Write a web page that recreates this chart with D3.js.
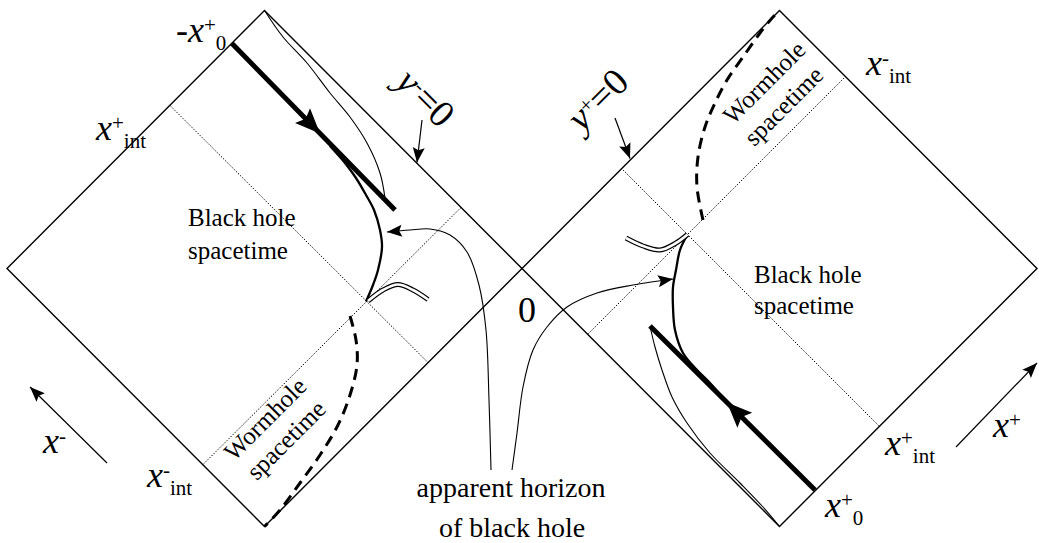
<!DOCTYPE html>
<html>
<head>
<meta charset="utf-8">
<script src="https://cdn.jsdelivr.net/npm/d3@7"></script>
<style>
  html, body { margin: 0; padding: 0; background: #fff; }
  svg { display: block; font-family: "Liberation Serif", "Times New Roman", serif; }
</style>
</head>
<body>
<div id="chart"></div>
<script>
// diagram coordinates: origin at the shared corner "0", roughly one unit per pixel
const leftDiamond = [[0, 0], [-257.5, 258], [-515, 0], [-257.5, -258]];
const rightDiamond = [[0, 0], [257.5, 258], [515, 0], [257.5, -258]];

// dotted x+int / x-int lines
const gridLeft = [[[-352, 163], [-94, -94]], [[-319, -196], [-61, 61]]];
const gridRight = [[[99, 100.5], [357, -157.5]], [[324, 192.5], [66, -65.5]]];

// thick infalling shells, arrow position along them
const infallLeft = [[-290, 225], [-127, 58.5]];
const infallRight = [[293, -221.5], [128, -57.5]];
const arrowAt = [0.54, 0.533];

// thin curves from the corners
const shellLeft = [[-257.5, 258], [-239, 231.5], [-215, 205.5], [-192, 175.5], [-172, 151.5],
  [-155, 125.5], [-142, 95.5], [-137, 70.5]];
const shellRight = [[128, -57.5], [133, -78.5], [140, -101.5], [150, -128.5], [165, -154.5],
  [188, -184.5], [218, -214.5], [241, -238.5], [257.5, -258]];

// apparent horizons
const horizonLeft = [[-192, 122.5], [-177, 105.5], [-166, 90.5], [-156, 73.5], [-148, 58.5],
  [-142, 38.5], [-140, 21.5], [-144, -1.5], [-149, -16.5], [-156, -33]];
const horizonRight = [[165.5, 34], [158, 18.5], [154, -1.5], [151, -18.5], [151, -38.5],
  [153, -61.5], [161, -84.5], [175, -101.5], [188, -114.5], [200, -128.5]];

// double lines at the cusps
const doubleLeft = [[-154, -32.5], [-139, -21.5], [-124, -16], [-109, -21.5], [-94, -31]];
const doubleRight = [[104, 30.5], [121, 22.5], [138, 18.5], [154, 25.5], [165.5, 34]];

// dashed wormhole throats
const throatLeft = [[-172, -47.5], [-166, -71.5], [-165, -96.5], [-172, -126.5], [-184, -156.5],
  [-202, -186.5], [-222, -214.5], [-242, -241.5], [-257.5, -258]];
const throatRight = [[181, 48.5], [175, 81.5], [176, 111.5], [183, 141.5], [193, 165.5],
  [205, 188.5], [221, 211.5], [238, 235.5], [251, 251.5], [257.5, 258]];

// "apparent horizon" pointers
const pointerLeft = [[-31, -201.5], [-33, -131.5], [-36, -61.5], [-43, -16.5], [-55, 16.5],
  [-72, 33.5], [-92, 39.5], [-112, 38.5], [-135, 36.5]];
const pointerRight = [[-10, -201.5], [-5, -164.5], [1, -118.5], [11, -81.5], [25, -58.5],
  [45, -38.5], [75, -24.5], [111, -16.5], [151, -10.5]];

// straight arrows: y=0 pointers and the x axes
const yArrows = [[[-100, 148.5], [-105, 106]], [[93, 150.5], [108, 110]]];
const axisArrows = [[[-415, -194.5], [-492, -118.5]], [[434, -178.5], [515, -94.5]]];

const width = 1039, height = 543;
const x = d3.scaleLinear().domain([-515, 515]).range([7, 1037]);
const y = d3.scaleLinear().domain([-258.5, 258.5]).range([527, 10]);

const svg = d3.select("#chart").append("svg")
  .attr("width", width)
  .attr("height", height);

const line = d3.line().x(d => x(d[0])).y(d => y(d[1]));
const smooth = d3.line().x(d => x(d[0])).y(d => y(d[1])).curve(d3.curveCatmullRom.alpha(0.5));

function draw(gen, pts, w, extra) {
  const p = svg.append("path")
    .attr("d", gen(pts))
    .attr("fill", "none")
    .attr("stroke", "#000")
    .attr("stroke-width", w);
  if (extra) extra(p);
  return p;
}

function arrowHead(tip, from, len, half) {
  const tx = x(tip[0]), ty = y(tip[1]);
  const a = Math.atan2(ty - y(from[1]), tx - x(from[0]));
  const c = Math.cos(a), s = Math.sin(a);
  const bx = tx - len * c, by = ty - len * s;
  const mx = tx - len * 0.82 * c, my = ty - len * 0.82 * s;
  svg.append("path")
    .attr("d", `M${tx},${ty}L${bx - s * half},${by + c * half}L${mx},${my}L${bx + s * half},${by - c * half}Z`)
    .attr("fill", "#000");
}

// diamonds
draw(line, leftDiamond.concat([leftDiamond[0]]), 1.4);
draw(line, rightDiamond.concat([rightDiamond[0]]), 1.4);

// dotted lines
gridLeft.concat(gridRight).forEach(seg => {
  draw(line, seg, 1, p => p.attr("stroke-dasharray", "1.4,1.6"));
});

// thin curves
draw(smooth, shellLeft, 1.1);
draw(smooth, shellRight, 1.1);

// wormhole throats
draw(smooth, throatLeft, 3, p => p.attr("stroke-dasharray", "11,7"));
draw(smooth, throatRight, 3, p => p.attr("stroke-dasharray", "11,7"));

// horizons
draw(smooth, horizonLeft, 2.3);
draw(smooth, horizonRight, 2.3);

// double lines
[doubleLeft, doubleRight].forEach(pts => {
  draw(smooth, pts, 5);
  svg.append("path").attr("d", smooth(pts)).attr("fill", "none")
    .attr("stroke", "#fff").attr("stroke-width", 2.6);
});

// infalling thick lines with arrows
[infallLeft, infallRight].forEach((seg, i) => {
  draw(line, seg, 5);
  const t = arrowAt[i];
  const tip = [seg[0][0] + (seg[1][0] - seg[0][0]) * t, seg[0][1] + (seg[1][1] - seg[0][1]) * t];
  arrowHead(tip, seg[0], 25, 10.5);
});

// pointers
[pointerLeft, pointerRight].forEach(pts => {
  draw(smooth, pts, 1.1);
  arrowHead(pts[pts.length - 1], pts[pts.length - 2], 15, 6);
});

yArrows.concat(axisArrows).forEach(seg => {
  draw(line, seg, 1.2);
  arrowHead(seg[1], seg[0], 15, 6);
});

// labels
function mathLabel(pos, parts, opts = {}) {
  const px = x(pos[0]), py = y(pos[1]);
  const t = svg.append("text")
    .attr("transform", `translate(${px},${py}) rotate(${opts.rotate || 0})`)
    .attr("font-size", opts.size || 36)
    .attr("fill", "#000");
  let cur = 0;
  parts.forEach(p => {
    const target = p.sup ? -10 : p.sub ? 8 : 0;
    t.append("tspan")
      .attr("dy", target - cur)
      .attr("font-size", p.sup || p.sub ? 21 : null)
      .attr("font-style", p.it ? "italic" : null)
      .text(p.t);
    cur = target;
  });
}

mathLabel([-346, 226.5], [{t: "-"}, {t: "x", it: true}, {t: "+", sup: true}, {t: "0", sub: true}]);
mathLabel([-426, 128.5], [{t: "x", it: true}, {t: "+", sup: true}, {t: "int", sub: true}]);
mathLabel([-375, -218.5], [{t: "x", it: true}, {t: "-", sup: true}, {t: "int", sub: true}]);
mathLabel([344, 193.5], [{t: "x", it: true}, {t: "-", sup: true}, {t: "int", sub: true}]);
mathLabel([363, -186.5], [{t: "x", it: true}, {t: "+", sup: true}, {t: "int", sub: true}]);
mathLabel([303, -248.5], [{t: "x", it: true}, {t: "+", sup: true}, {t: "0", sub: true}]);
mathLabel([-479, -184.5], [{t: "x", it: true}, {t: "-", sup: true}]);
mathLabel([471, -168.5], [{t: "x", it: true}, {t: "+", sup: true}]);
mathLabel([-128, 184.5], [{t: "y", it: true}, {t: "-", sup: true}, {t: "=0"}], {rotate: 45, size: 38});
mathLabel([60, 135.5], [{t: "y", it: true}, {t: "+", sup: true}, {t: "=0"}], {rotate: -45, size: 38});

function plain(pos, str, size, anchor, rotate) {
  svg.append("text")
    .attr("transform", `translate(${x(pos[0])},${y(pos[1])}) rotate(${rotate || 0})`)
    .attr("font-size", size)
    .attr("text-anchor", anchor)
    .attr("fill", "#000")
    .text(str);
}

plain([-334, 42.5], "Black hole", 25, "start");
plain([-334, 9.5], "spacetime", 25, "start");
plain([232, -14.5], "Black hole", 25, "start");
plain([232, -45.5], "spacetime", 25, "start");
plain([-251, -156.5], "Wormhole", 25, "middle", -45);
plain([-230, -177.5], "spacetime", 25, "middle", -45);
plain([248, 180], "Wormhole", 25, "middle", -45);
plain([267.5, 156.5], "spacetime", 25, "middle", -45);
plain([5, -53.5], "0", 36, "middle");
plain([-11, -228.5], "apparent horizon", 28, "middle");
plain([-10, -268.5], "of black hole", 28, "middle");
</script>
</body>
</html>
